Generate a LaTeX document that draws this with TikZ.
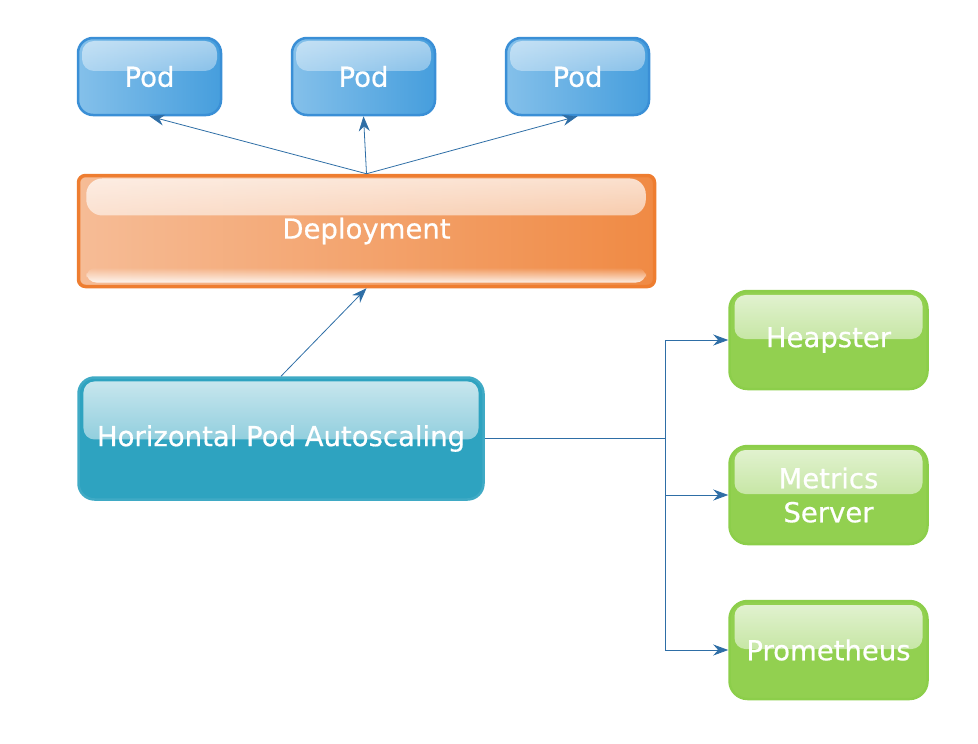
\documentclass[tikz,border=0pt]{standalone}
\usepackage{fontspec}
\setmainfont{DejaVu Sans}
\newfontfamily\boxfont[FakeBold=0.6]{DejaVu Sans}
\usetikzlibrary{arrows.meta,fadings}
\definecolor{podedge}{RGB}{58,143,214}
\definecolor{podlight}{RGB}{132,192,234}
\definecolor{poddark}{RGB}{70,158,221}
\definecolor{deployedge}{RGB}{238,125,48}
\definecolor{deploylight}{RGB}{246,188,150}
\definecolor{deploydark}{RGB}{240,138,68}
\definecolor{hpafill}{RGB}{46,163,192}
\definecolor{greenfill}{RGB}{146,208,80}
\definecolor{greenedge}{RGB}{140,206,74}
\definecolor{arrowblue}{RGB}{46,110,166}
\tikzfading[name=glossdown, top color=transparent!25, bottom color=transparent!78]
\tikzfading[name=glosssoft, top color=transparent!45, bottom color=transparent!90]
\tikzfading[name=glossup, top color=transparent!100, bottom color=transparent!15]
\begin{document}
\begin{tikzpicture}
[x=1pt,y=-1pt,
  gloss/.style={path picture={
    \fill[white,path fading=glossdown,rounded corners=11pt]
      ([shift={(5pt,-4pt)}]path picture bounding box.north west) rectangle
      ([shift={(-5pt,-#1)}]path picture bounding box.north east);}},
  boxtext/.style={text=white,align=center,font=\boxfont\fontsize{27.5}{34}\selectfont},
  podbox/.style={boxtext,shape=rectangle,rounded corners=15pt,draw=podedge,line width=2.5pt,
    left color=podlight,right color=poddark,minimum width=143pt,minimum height=77pt,
    path picture={
      \fill[white,path fading=glosssoft,rounded corners=12pt]
        ([shift={(4pt,-3pt)}]path picture bounding box.north west) rectangle
        ([shift={(-4pt,-33pt)}]path picture bounding box.north east);}},
  deploybox/.style={boxtext,shape=rectangle,rounded corners=7pt,draw=deployedge,line width=3.5pt,
    left color=deploylight,right color=deploydark,minimum width=576pt,minimum height=111pt,
    path picture={
      \fill[white,path fading=glossdown,rounded corners=16pt]
        ([shift={(8pt,-3pt)}]path picture bounding box.north west) rectangle
        ([shift={(-8pt,-40pt)}]path picture bounding box.north east);
      \fill[white,path fading=glossup,rounded corners=10pt]
        ([shift={(8pt,-92pt)}]path picture bounding box.north west) rectangle
        ([shift={(-8pt,4pt)}]path picture bounding box.south east);}},
  hpabox/.style={boxtext,shape=rectangle,rounded corners=16pt,draw=hpafill!92!white,line width=2.5pt,
    fill=hpafill,minimum width=405pt,minimum height=122pt,gloss=62pt},
  metricbox/.style={boxtext,shape=rectangle,rounded corners=18pt,draw=greenedge,line width=2.5pt,
    fill=greenfill,minimum width=198pt,minimum height=98pt,gloss=48pt},
  linedecorate/.style={draw=arrowblue,line width=0.8pt,-{Stealth[length=15pt,width=11pt]}},
  scale=1]
\useasboundingbox (0,0) rectangle (978,744);
%% pods
\foreach \nodename/\x in {pod1/149.5, pod2/363.5, pod3/577.5} {
  \node (\nodename) at (\x,76.5) [podbox] {Pod};
}
%% deployment and autoscaler
\node (depl) at (366.5,231) [deploybox] {Deployment};
\node (hpa) at (281,438.5) [hpabox] {Horizontal Pod Autoscaling};
%% metric sources
\foreach \nodename/\y/\label in {heap/340/Heapster, metrics/495/{Metrics\\Server}, prom/650/Prometheus} {
  \node (\nodename) at (828.5,\y) [metricbox] {\label};
}
\coordinate (split) at (665,438.5);
%% edges or lines
\foreach \endnode in {pod1, pod2, pod3} {
  \draw[linedecorate] (depl.north) -- (\endnode.south);
}
\draw[linedecorate] (hpa.north) -- (depl.south);
\draw[draw=arrowblue,line width=0.8pt] (hpa.east) -- (split);
\foreach \endnode in {heap, metrics, prom} {
  \draw[linedecorate] (split) |- (\endnode.west);
}
\end{tikzpicture}
\end{document}
